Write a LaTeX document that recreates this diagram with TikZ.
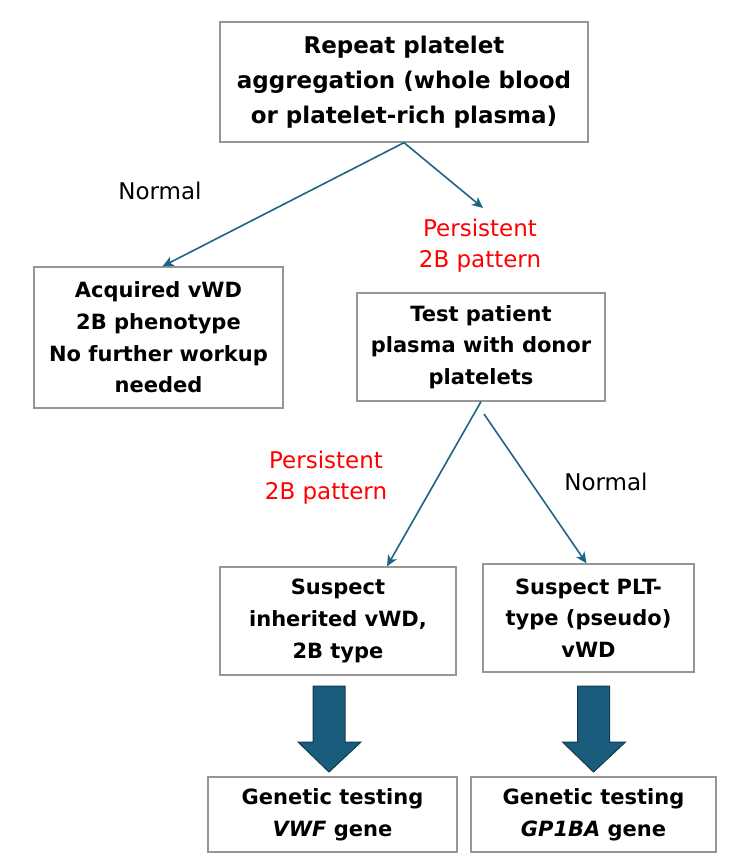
\documentclass[tikz,border=0pt]{standalone}
\usepackage{fontspec}
\setmainfont{DejaVu Sans}
\usepackage{xcolor}
\usetikzlibrary{arrows.meta,calc}

\definecolor{flowblue}{RGB}{31,100,132}
\definecolor{blockblue}{RGB}{26,92,124}
\definecolor{blockedge}{RGB}{18,58,80}
\definecolor{boxgrey}{RGB}{150,150,150}

\begin{document}
\begin{tikzpicture}[x=1pt,y=-1pt,
  box/.style={draw=boxgrey,line width=1.3pt,fill=white,align=center,inner sep=0pt,
    font=\fontsize{21}{31.7}\selectfont\bfseries},
  link/.style={-{Stealth[length=11pt,width=10pt,inset=3pt]},flowblue,line width=1.6pt},
  bigarrow/.style={fill=blockblue,draw=blockedge,line width=1pt},
  lbl/.style={align=center,font=\fontsize{23}{31}\selectfont}]
\useasboundingbox (0,0) rectangle (750,868);

% boxes
\node[box,minimum width=368pt,minimum height=120pt,font=\fontsize{23}{35}\selectfont\bfseries]
  (repeat) at (404,82) {Repeat platelet\\aggregation (whole blood\\or platelet-rich plasma)};
\node[box,minimum width=249pt,minimum height=141pt] (acquired) at (158.5,337.5)
  {Acquired vWD\\2B phenotype\\No further workup\\needed};
\node[box,minimum width=248pt,minimum height=108pt] (donor) at (481,347)
  {Test patient\\plasma with donor\\platelets};
\node[box,minimum width=236pt,minimum height=108pt] (inherited) at (338,621)
  {Suspect\\inherited vWD,\\2B type};
\node[box,minimum width=211pt,minimum height=108pt] (pseudo) at (588.5,618)
  {Suspect PLT-\\type (pseudo)\\vWD};
\node[box,minimum width=249pt,minimum height=75pt] (vwfgene) at (332.5,814.5)
  {Genetic testing\\\textit{VWF} gene};
\node[box,minimum width=245pt,minimum height=75pt] (gpgene) at (593.5,814.5)
  {Genetic testing\\\textit{GP1BA} gene};

% labels
\node[lbl] (normA) at (160,191) {Normal};
\node[lbl,red] (persA) at (480,246) {Persistent\\2B pattern};
\node[lbl,red] (persB) at (326,478) {Persistent\\2B pattern};
\node[lbl] (normB) at (606,482) {Normal};

% thin arrows
\coordinate (pend) at (483,208);
\coordinate (nstart) at (484,414);
\draw[link] (repeat.south) -- ($(acquired.north)+(4,0)$);
\draw[link] (repeat.south) -- (pend);
\draw[link] (donor.south) -- ($(inherited.north)+(49,0)$);
\draw[link] (nstart) -- ($(pseudo.north)+(-2,0)$);

% block arrows
\coordinate (bigL) at (329,686);
\coordinate (bigR) at (593.5,686);
\draw[bigarrow] (bigL) ++(-16,0) -- ++(32,0) -- ++(0,56) -- ++(16,0) -- ++(-32,30)
  -- ++(-31,-30) -- ++(15,0) -- cycle;
\draw[bigarrow] (bigR) ++(-16,0) -- ++(32,0) -- ++(0,56) -- ++(16,0) -- ++(-32,30)
  -- ++(-31,-30) -- ++(15,0) -- cycle;
\end{tikzpicture}
\end{document}
